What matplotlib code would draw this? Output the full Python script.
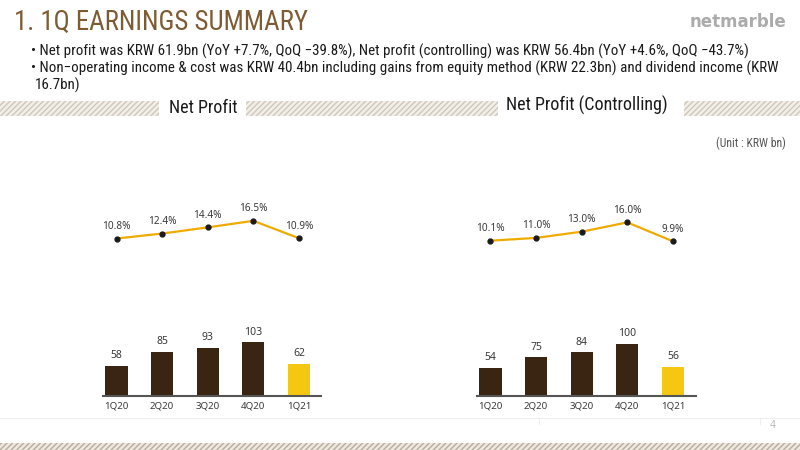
import matplotlib
matplotlib.use("Agg")
import matplotlib.pyplot as plt
from matplotlib.patches import Rectangle
from matplotlib.lines import Line2D
from matplotlib import font_manager as fm

# ---- data ----
quarters = ["1Q20", "2Q20", "3Q20", "4Q20", "1Q21"]
net_profit = [58, 85, 93, 103, 62]
net_margin = [10.8, 12.4, 14.4, 16.5, 10.9]
ctrl_profit = [54, 75, 84, 100, 56]
ctrl_margin = [10.1, 11.0, 13.0, 16.0, 9.9]

title = "1. 1Q EARNINGS SUMMARY"
bullets = [
    "• Net profit was KRW 61.9bn (YoY +7.7%, QoQ \u221239.8%), Net profit (controlling) was KRW 56.4bn (YoY +4.6%, QoQ \u221243.7%)",
    "• Non\u2212operating income & cost was KRW 40.4bn including gains from equity method (KRW 22.3bn) and dividend income (KRW",
    "16.7bn)",
]

W, H = 800, 450
fig = plt.figure(figsize=(8, 4.5), dpi=100)
fig.patch.set_facecolor("white")
renderer = fig.canvas.get_renderer()

# pick a narrow font if available
names = {f.name for f in fm.fontManager.ttflist}
NARROW_FAM = None
for cand in ["Liberation Sans Narrow", "Roboto Condensed", "Open Sans Condensed",
             "Noto Sans Display", "Roboto"]:
    if cand in names:
        NARROW_FAM = cand
        break
if NARROW_FAM is None:
    NARROW_FAM = "DejaVu Sans"
NARROW = [NARROW_FAM, "DejaVu Sans"]
SANS = ["Noto Sans", "DejaVu Sans"]


def fx(x):
    return x / W


def fy(y):
    return 1 - y / H


def fit_text(t, target_w, max_size):
    """Shrink font until the text spans target_w pixels."""
    size = max_size
    for _ in range(30):
        t.set_fontsize(size)
        w = t.get_window_extent(renderer=renderer).width
        if w <= target_w:
            break
        size *= target_w / w * 0.997
    return size


# title
tt = fig.text(fx(14), fy(22), title, family=NARROW, fontsize=22, color="#7E5C33",
              va="center", ha="left")
fit_text(tt, 296, 22)
fig.text(fx(786), fy(22), "netmarble", family=["DejaVu Sans"], fontsize=12,
         fontweight="bold", color="#ABABAB", va="center", ha="right")

# bullets
bt = []
bx = [31, 31, 35]
for i, line in enumerate(bullets):
    bt.append(fig.text(fx(bx[i]), fy(51 + 17 * i), line, family=NARROW, fontsize=10.5,
                       color="#1A1A1A", va="center", ha="left"))
bsize = fit_text(bt[0], 724, 14)
for t in bt[1:]:
    t.set_fontsize(bsize)

# section header bands
band_col = "#CFC7BA"
for (x0, x1) in [(0, 159), (246, 498), (684, 800)]:
    r = Rectangle((fx(x0), fy(116)), fx(x1) - fx(x0), (116 - 101) / H,
                  transform=fig.transFigure, facecolor="#F2EFEA",
                  edgecolor=band_col, hatch="//////", linewidth=0)
    fig.patches.append(r)
h1 = fig.text(fx(203), fy(108), "Net Profit", family=NARROW, fontsize=13,
              color="#1A1A1A", va="center", ha="center")
h2 = fig.text(fx(587), fy(105), "Net Profit (Controlling)", family=NARROW, fontsize=13,
              color="#1A1A1A", va="center", ha="center")
hs = fit_text(h2, 164, 13)
h1.set_fontsize(hs)

fig.text(fx(786), fy(143), "(Unit : KRW bn)", family=NARROW, fontsize=8.5,
         color="#555555", va="center", ha="right")

# footer
fig.add_artist(Line2D([0, 1], [fy(418), fy(418)], transform=fig.transFigure,
                      color="#EEEEEE", lw=0.8))
for xx in (539, 760):
    fig.add_artist(Line2D([fx(xx), fx(xx)], [fy(418), fy(424)],
                          transform=fig.transFigure, color="#EEEEEE", lw=0.8))
fig.text(fx(773), fy(425), "4", family=SANS, fontsize=7.5, color="#BBBBBB",
         va="center", ha="center")
r = Rectangle((0, 0), 1, (450 - 443) / H, transform=fig.transFigure,
              facecolor="#EDE8E0", edgecolor="#B8AC9C", hatch="//////",
              linewidth=0)
fig.patches.append(r)

bar_dark = "#3A2412"
bar_hl = "#F5C710"
line_col = "#EFAB00"
txt = "#3A3A3A"


def make_chart(left_px, right_px, values, margins):
    top_px, base_px = 190, 396
    ax = fig.add_axes([fx(left_px), fy(base_px), fx(right_px) - fx(left_px),
                       (base_px - top_px) / H])
    px_per_unit = 45.6
    x0 = -(13.5 / px_per_unit)
    x1 = x0 + (right_px - left_px) / px_per_unit
    xs = list(range(len(values)))
    colors = [bar_dark] * (len(values) - 1) + [bar_hl]
    ax.bar(xs, values, width=0.49, color=colors, zorder=2)
    ax.set_xlim(x0, x1)
    ax.set_ylim(0, (base_px - top_px) / 0.52)
    for s in ("top", "left", "right"):
        ax.spines[s].set_visible(False)
    ax.spines["bottom"].set_color("#555555")
    ax.spines["bottom"].set_linewidth(1.5)
    ax.set_yticks([])
    ax.set_xticks(xs)
    ax.set_xticklabels(quarters, family=SANS, fontsize=7, color=txt)
    ax.tick_params(axis="x", length=0, pad=4)
    ax.patch.set_alpha(0)
    for x, v in zip(xs, values):
        ax.annotate(f"{v}", (x, v), xytext=(0, 10), textcoords="offset pixels",
                    ha="center", va="center", family=SANS, fontsize=7.5,
                    color=txt)

    ax2 = ax.twinx()
    ax2.set_xlim(x0, x1)
    # 0% at y=272 px, 3.1 px per %
    lo = (272 - base_px) / 3.1
    hi = (272 - top_px) / 3.1
    ax2.set_ylim(lo, hi)
    ax2.plot(xs, margins, color=line_col, lw=1.6, marker="o", markersize=3.5,
             markerfacecolor="#1A1A1A", markeredgecolor="#1A1A1A", zorder=3)
    for x, m in zip(xs, margins):
        ax2.annotate(f"{m:.1f}%", (x, m), xytext=(0, 12), textcoords="offset pixels",
                     ha="center", va="center", family=SANS, fontsize=7.2,
                     color=txt)
    ax2.axis("off")


make_chart(103, 321, net_profit, net_margin)
make_chart(477, 696, ctrl_profit, ctrl_margin)

fig.savefig("out.png", dpi=100, facecolor="white")
